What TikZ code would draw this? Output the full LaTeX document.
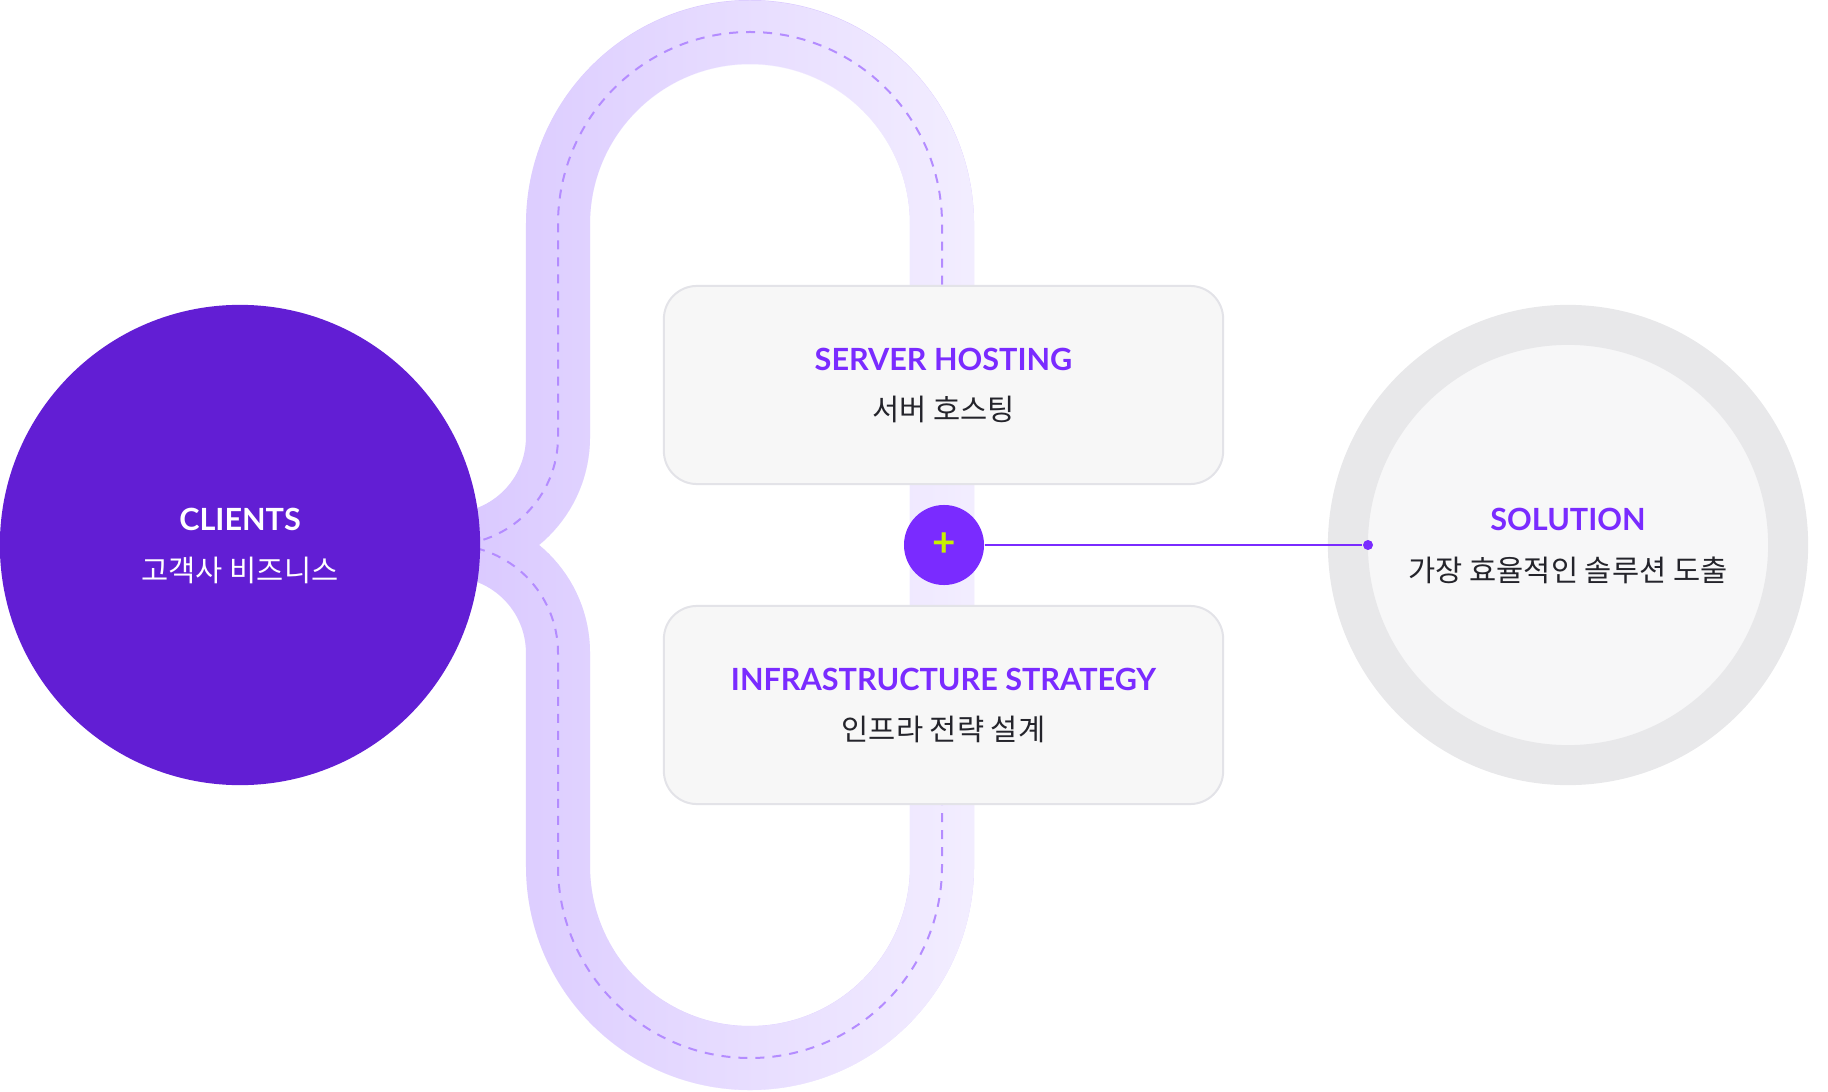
\documentclass[tikz,border=0pt]{standalone}
\usepackage{fontspec}
\setmainfont{Lato}
\newfontfamily\krfont{Noto Sans CJK KR}
\usepackage{tikz}
\usetikzlibrary{positioning,fadings}
\definecolor{clientpurple}{HTML}{621ED4}
\definecolor{accent}{HTML}{7A2BFF}
\definecolor{lime}{HTML}{C8F000}
\definecolor{cardfill}{HTML}{F7F7F7}
\definecolor{cardline}{HTML}{E3E3E8}
\definecolor{ink}{HTML}{24242B}
\definecolor{ringgray}{HTML}{E8E8EA}
\definecolor{solfill}{HTML}{F7F7F8}
\definecolor{trackleft}{HTML}{D8C6FF}
\definecolor{trackright}{HTML}{F3EEFF}
\definecolor{dashpurple}{HTML}{B48CFF}
\tikzset{
  clientnode/.style={circle,fill=clientpurple,minimum size=4.8cm,inner sep=0pt},
  solnode/.style={circle,fill=solfill,draw=ringgray,line width=0.4cm,
                  minimum size=4.4cm,inner sep=0pt},
  card/.style={rectangle,rounded corners=0.33cm,fill=cardfill,draw=cardline,
               line width=0.02cm,minimum width=5.59cm,minimum height=1.98cm},
  plusnode/.style={circle,fill=accent,minimum size=0.8cm,inner sep=0pt,
                   text=lime,font=\bfseries\fontsize{11.5pt}{11.5pt}\selectfont},
  dotnode/.style={circle,fill=accent,minimum size=0.1cm,inner sep=0pt},
  ttl/.style={font=\bfseries\fontsize{8.7pt}{10pt}\selectfont,text=accent,
              inner sep=0pt},
  subttl/.style={font=\krfont\fontsize{8.4pt}{10pt}\selectfont,text=ink,
                 inner sep=0pt},
  track/.style={line width=0.64cm,draw=trackleft},
  guide/.style={draw=dashpurple,line width=0.02cm,
                dash pattern=on 0.09cm off 0.08cm},
  link/.style={draw=accent,line width=0.02cm}
}
% closed loop through both branches
\newcommand{\trackloop}{(450,0) arc[start angle=-90,end angle=0,radius=108]
  -- (558,321) arc[start angle=180,end angle=0,radius=192]
  -- (942,-321) arc[start angle=0,end angle=-180,radius=192]
  -- (558,-108) arc[start angle=0,end angle=90,radius=108] -- cycle}

\begin{document}
\begin{tikzpicture}[x=0.01cm,y=0.01cm]
    \useasboundingbox (0,-546) rectangle (1828,545);
    % track with gradient
    \draw[track] \trackloop;
    \draw[track,draw=trackright,path fading=west] \trackloop;
    \draw[guide] (450,0) arc[start angle=-90,end angle=0,radius=108]
      -- (558,321) arc[start angle=180,end angle=0,radius=192] -- (942,200);
    \draw[guide] (942,-200) -- (942,-321)
      arc[start angle=0,end angle=-180,radius=192]
      -- (558,-108) arc[start angle=0,end angle=90,radius=108];
    % clients
    \node[clientnode] (clients) at (240,0) {};
    \node[ttl,text=white] (clientsttl) at (240,26) {CLIENTS};
    \node[subttl,text=white] (clientssub) at (240,-25) {고객사 비즈니스};
    % cards
    \node[card] (hosting) at (943.5,160) {};
    \node[ttl] (hostingttl) at (943.5,186) {SERVER HOSTING};
    \node[subttl] (hostingsub) at (943.5,136) {서버 호스팅};
    \node[card] (infra) at (943.5,-160) {};
    \node[ttl] (infrattl) at (943.5,-134) {INFRASTRUCTURE STRATEGY};
    \node[subttl] (infrasub) at (943.5,-184) {인프라 전략 설계};
    % solution
    \node[solnode] (solution) at (1568,0) {};
    \node[ttl] (solutionttl) at (1568,26) {SOLUTION};
    \node[subttl] (solutionsub) at (1568,-25) {가장 효율적인 솔루션 도출};
    \node[plusnode] (plus) at (944,0) {+};
    \node[dotnode] (soldot) at (1368,0) {};
    \draw[link] (plus) -- (soldot);
\end{tikzpicture}
\end{document}
